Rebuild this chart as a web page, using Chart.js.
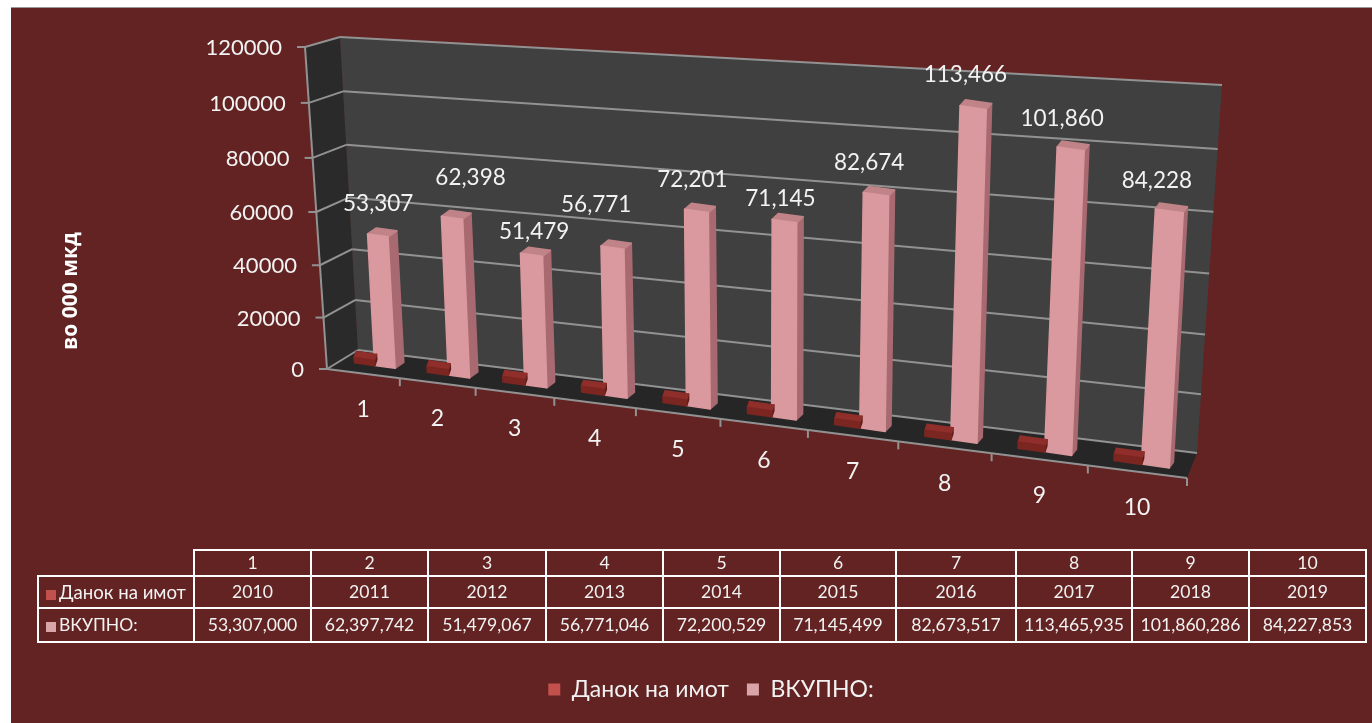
<!DOCTYPE html>
<html lang="mk">
<head>
<meta charset="utf-8">
<title>Данок на имот</title>
<script src="https://cdn.jsdelivr.net/npm/chart.js@4"></script>
<style>
  html, body { margin: 0; height: 100%; background: #fff; overflow: hidden; }
  #panel { position: absolute; left: 11px; top: 7px; width: 1361px; height: 716px; background: #632323; border-top: 1px solid #999; box-sizing: border-box; }
  #plot { position: absolute; left: 0; top: 0; }
  table { position: absolute; left: 37px; top: 549px; border-collapse: collapse; table-layout: fixed; width: 1327px; color: #f2f2f2; font: 17.6px/20px Lato, "Open Sans", sans-serif; }
  td { border: 2px solid #fff; text-align: center; padding: 0; white-space: nowrap; overflow: hidden; }
  td.blank { border: none; border-right: 2px solid #fff; border-bottom: 2px solid #fff; }
  td.name { text-align: left; padding-left: 7px; font-size: 17.5px; }
  td.name.first { font-size: 18.6px; }
  td.name i { display: inline-block; width: 10px; height: 10px; margin-right: 3px; vertical-align: -1px; }
  tr.r1 td { height: 24px; }
  tr.r2 td { height: 30px; }
  tr.r3 td { height: 32px; }
</style>
</head>
<body>
<div id="panel"></div>
<canvas id="plot" width="1372" height="723"></canvas>
<table id="dataTable"></table>
<script>
const categories = ["1", "2", "3", "4", "5", "6", "7", "8", "9", "10"];
const years = [2010, 2011, 2012, 2013, 2014, 2015, 2016, 2017, 2018, 2019];
const totals = [53307000, 62397742, 51479067, 56771046, 72200529, 71145499, 82673517, 113465935, 101860286, 84227853];
const seriesNames = ["Данок на имот", "ВКУПНО:"];
const yTicks = [0, 20000, 40000, 60000, 80000, 100000, 120000];

const FONT = 'Lato, "Open Sans", sans-serif';
const TEXT = "#f2f2f2";

// corners of the fake 3D box (pixels on the page)
const FL0 = [327, 369], FR0 = [1187, 478], BL0 = [358, 350], BR0 = [1197, 453];
const FL1 = [305, 47], FR1 = [1215, 93], BL1 = [340, 37], BR1 = [1222, 85];
// line the bar fronts stand on
const BAR0 = [339, 361], BAR1 = [1191, 470.6];
// small hand nudges for the value labels, the original has them all over the place
const labelDx = [1, 19, 3, -16, -4, -4, -7, -8, -9, -13];
const labelDy = [21, 29, 12, 32, 20, 11, 20, 22, 19, 19];

const lerp = (a, b, t) => a + (b - a) * t;
const mix = (p, q, t) => [lerp(p[0], q[0], t), lerp(p[1], q[1], t)];
// the right side of the box is closer to the viewer
const warp = u => 0.83 * u + 0.17 * u * u;

function boxPoint(w, v, d) {
  const h = v - 0.05 * v * (1 - v);
  const front = mix(mix(FL0, FR0, w), mix(FL1, FR1, w), h);
  const back = mix(mix(BL0, BR0, w), mix(BL1, BR1, w), h);
  return mix(front, back, d);
}

// height of a bar on screen, bigger towards the right
const screenHeight = (raw, w) => raw * (0.0026 + 0.00053 * w) / 0.00268;

function poly(ctx, pts, fill, stroke) {
  ctx.beginPath();
  pts.forEach((p, i) => i ? ctx.lineTo(p[0], p[1]) : ctx.moveTo(p[0], p[1]));
  ctx.closePath();
  ctx.fillStyle = fill;
  ctx.fill();
  if (stroke) {
    ctx.strokeStyle = stroke;
    ctx.lineWidth = 1.5;
    ctx.lineJoin = "round";
    ctx.stroke();
  }
}

function seg(ctx, a, b) {
  ctx.beginPath();
  ctx.moveTo(a[0], a[1]);
  ctx.lineTo(b[0], b[1]);
  ctx.stroke();
}

let area = null;

// bars stay normal Chart.js elements, only the way they paint is changed
Chart.BarElement.prototype.draw = function (ctx) {
  const u = (this.x - area.left) / area.width;
  const w = warp(u);
  const base = mix(BAR0, BAR1, w);
  const tall = this.base - this.y > 20;
  // the measured tops include the top face
  const H = screenHeight(this.base - this.y, w) - (tall ? 11 : 0);
  const half = this.width * (0.83 + 0.34 * u) / 2;
  const lean = lerp(-0.06, 0.06, w);
  const slope = 0.14;
  const topX = base[0] + lean * H, topY = base[1] - H;
  const dx = tall ? lerp(9, 4, w) : 2, dy = -6;

  const bl = [base[0] - half, base[1] - half * slope];
  const br = [base[0] + half, base[1] + half * slope];
  const tl = [topX - half, topY - half * slope];
  const tr = [topX + half, topY + half * slope];
  const colors = tall
    ? ["#d9999e", "#a86a70", "#c08388"]
    : ["#7c2622", "#5c1b18", "#8f2e2a"];

  poly(ctx, [br, [br[0] + dx, br[1] + dy], [tr[0] + dx, tr[1] + dy], tr], colors[1], colors[1]);
  poly(ctx, [tl, tr, [tr[0] + dx, tr[1] + dy], [tl[0] + dx, tl[1] + dy]], colors[2], colors[2]);
  poly(ctx, [bl, br, tr, tl], colors[0], colors[0]);
};

const box3d = {
  id: "box3d",
  beforeDatasetsDraw(chart) {
    const ctx = chart.ctx;
    const y = chart.scales.y;
    area = chart.chartArea;
    ctx.save();
    poly(ctx, [FL0, BL0, BL1, FL1], "#2a2a2a");
    poly(ctx, [BL0, BR0, BR1, BL1], "#404040");
    poly(ctx, [FL0, FR0, BR0, BL0], "#262626");

    ctx.strokeStyle = "#929292";
    ctx.lineWidth = 2;
    yTicks.forEach(t => {
      const v = (y.bottom - y.getPixelForValue(t)) / (y.bottom - y.top);
      const a = boxPoint(0, v, 0), b = boxPoint(0, v, 1), c = boxPoint(1, v, 1);
      seg(ctx, [a[0] - 8, a[1]], a);
      seg(ctx, a, b);
      seg(ctx, b, c);
      ctx.fillStyle = TEXT;
      ctx.font = "22px " + FONT;
      ctx.textAlign = "right";
      ctx.textBaseline = "middle";
      ctx.fillText(String(t), a[0] - 23, a[1] + 1);
    });
    seg(ctx, FL0, FL1);
    seg(ctx, FL0, FR0);

    // category ticks and labels along the front edge of the floor
    const x = chart.scales.x;
    categories.forEach((c, i) => {
      const edge = boxPoint(warp((i + 1) / 10), 0, 0);
      seg(ctx, edge, [edge[0], edge[1] + 8]);
      const mid = boxPoint(warp((x.getPixelForValue(i) - area.left) / area.width), 0, 0);
      ctx.fillStyle = TEXT;
      ctx.font = "23px " + FONT;
      ctx.textAlign = "center";
      ctx.fillText(c, mid[0], mid[1] + 36);
    });

    ctx.translate(71, 291);
    ctx.rotate(-Math.PI / 2);
    ctx.fillStyle = "#fff";
    ctx.font = 'bold 21px "Open Sans", sans-serif';
    ctx.textAlign = "center";
    ctx.fillText("во 000 мкд", 0, 0);
    ctx.restore();
  },
  afterDatasetsDraw(chart) {
    const ctx = chart.ctx;
    const meta = chart.getDatasetMeta(1);
    ctx.save();
    ctx.fillStyle = TEXT;
    ctx.font = "22.5px " + FONT;
    ctx.textAlign = "center";
    ctx.textBaseline = "middle";
    meta.data.forEach((bar, i) => {
      const w = warp((bar.x - area.left) / area.width);
      const base = mix(BAR0, BAR1, w);
      const H = screenHeight(bar.base - bar.y, w);
      const topX = base[0] + lerp(-0.06, 0.06, w) * H;
      ctx.fillText(Math.round(totals[i] / 1000).toLocaleString("en-US"), topX + labelDx[i], base[1] - H - labelDy[i]);
    });
    ctx.restore();
  }
};

const chart = new Chart(document.getElementById("plot"), {
  type: "bar",
  data: {
    labels: categories,
    datasets: [
      { label: seriesNames[0], data: years, backgroundColor: "#7c2622", categoryPercentage: 0.56, barPercentage: 1, clip: false },
      { label: seriesNames[1], data: totals.map(v => v / 1000), backgroundColor: "#d9999e", categoryPercentage: 0.56, barPercentage: 1, clip: false }
    ]
  },
  options: {
    responsive: false,
    animation: false,
    events: [],
    layout: { padding: { left: 235, right: 185, top: 47, bottom: 12 } },
    scales: {
      x: {
        ticks: { display: false },
        grid: { display: false },
        border: { display: false },
        afterFit(scale) { scale.height = 286; }
      },
      y: {
        min: 0,
        max: 120000,
        ticks: { display: false, stepSize: 20000 },
        grid: { display: false },
        border: { display: false },
        afterFit(scale) { scale.width = 92; }
      }
    },
    plugins: {
      tooltip: { enabled: false },
      legend: {
        position: "bottom",
        labels: {
          color: TEXT,
          font: { size: 23, family: FONT },
          boxWidth: 12,
          boxHeight: 12,
          padding: 18,
          generateLabels(c) {
            const items = Chart.defaults.plugins.legend.labels.generateLabels(c);
            items[0].fillStyle = "#c2504c";
            items[0].strokeStyle = "#c2504c";
            items[1].fillStyle = "#d9a5a8";
            items[1].strokeStyle = "#d9a5a8";
            return items;
          }
        }
      }
    }
  },
  plugins: [box3d]
});

// data table under the plot
const colWidths = [156, 117, 117, 118, 117, 117, 116, 120, 116, 117, 117];
const table = document.getElementById("dataTable");
const swatches = ["#c2504c", "#d9a5a8"];
table.innerHTML =
  "<colgroup>" + colWidths.map(w => `<col style="width:${w}px">`).join("") + "</colgroup>" +
  `<tr class="r1"><td class="blank"></td>${categories.map(c => `<td>${c}</td>`).join("")}</tr>` +
  `<tr class="r2"><td class="name first"><i style="background:${swatches[0]}"></i>${seriesNames[0]}</td>${years.map(y => `<td>${y}</td>`).join("")}</tr>` +
  `<tr class="r3"><td class="name"><i style="background:${swatches[1]}"></i>${seriesNames[1]}</td>${totals.map(v => `<td>${v.toLocaleString("en-US")}</td>`).join("")}</tr>`;
</script>
</body>
</html>
